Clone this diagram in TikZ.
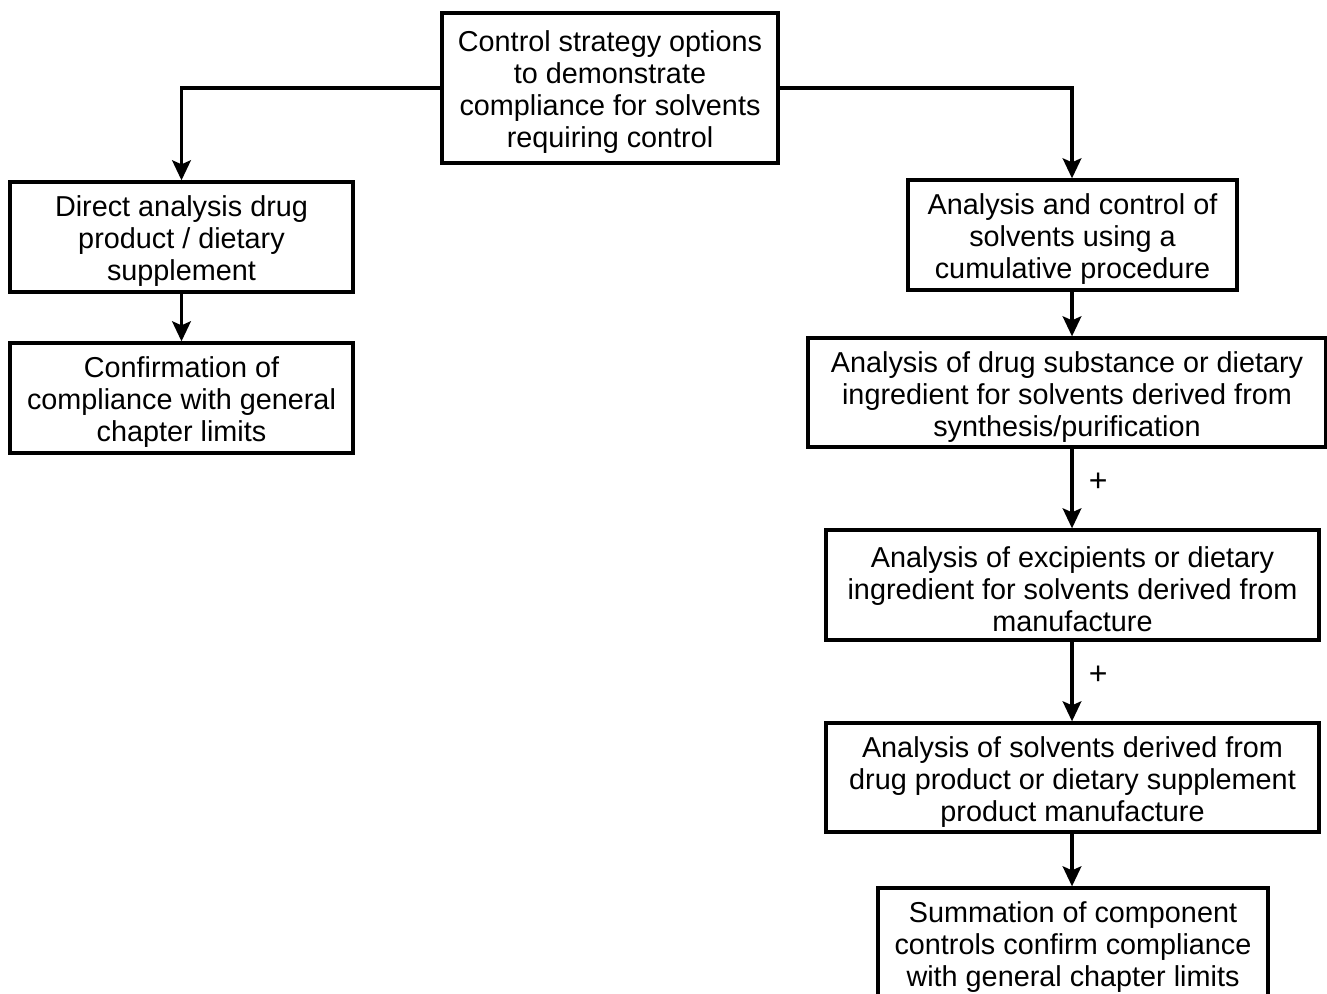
\documentclass[tikz,border=0pt]{standalone}
\usepackage{fontspec}
\setmainfont{Liberation Sans}
\usetikzlibrary{arrows.meta}
\newcommand{\topstrut}{\rule{0pt}{22pt}}
\begin{document}
\begin{tikzpicture}[x=0.75pt,y=-0.75pt,
  box/.style={draw,line width=2.5pt,align=center,inner sep=0pt,font=\fontsize{21.6}{24}\selectfont},
  arr/.style={line width=2.5pt,-{Stealth[length=15pt,width=14pt,inset=3pt]}},
  plus/.style={font=\fontsize{24}{24}\selectfont}]
\useasboundingbox (0,0) rectangle (1327,994);
\clip (0,0) rectangle (1327,994);
\node[box,minimum width=252pt,minimum height=112.5pt] (top) at (610,88) {\topstrut Control strategy options\\to demonstrate\\compliance for solvents\\requiring control};
\node[box,minimum width=257.25pt,minimum height=82.5pt] (l1) at (181.5,237) {\topstrut Direct analysis drug\\product / dietary\\supplement};
\node[box,minimum width=257.25pt,minimum height=82.5pt] (l2) at (181.5,398) {\topstrut Confirmation of\\compliance with general\\chapter limits};
\node[box,minimum width=246.75pt,minimum height=82.5pt] (r1) at (1072.5,235) {\topstrut Analysis and control of\\solvents using a\\cumulative procedure};
\node[box,minimum width=388.5pt,minimum height=81.75pt] (r2) at (1067,392.5) {\topstrut Analysis of drug substance or dietary\\ingredient for solvents derived from\\synthesis/purification};
\node[box,minimum width=369.75pt,minimum height=82.5pt] (r3) at (1072.5,585) {\topstrut Analysis of excipients or dietary\\ingredient for solvents derived from\\manufacture};
\node[box,minimum width=369.75pt,minimum height=81.75pt] (r4) at (1072.5,777.5) {\topstrut Analysis of solvents derived from\\drug product or dietary supplement\\product manufacture};
\node[box,minimum width=292.5pt,minimum height=82.5pt] (r5) at (1073,943) {\topstrut Summation of component\\controls confirm compliance\\with general chapter limits};
\coordinate (cl) at (181.5,88);
\coordinate (cr) at (1072,88);
\draw[arr] (top.west) -- (cl) -- (l1.north -| cl);
\draw[arr] (top.east) -- (cr) -- (r1.north -| cr);
\draw[arr] (l1.south) -- (l2.north);
\draw[arr] (r1.south -| cr) -- (r2.north -| cr);
\draw[arr] (r2.south -| cr) -- node[plus,right=8pt,pos=0.42] (p1) {+} (r3.north -| cr);
\draw[arr] (r3.south -| cr) -- node[plus,right=8pt,pos=0.42] (p2) {+} (r4.north -| cr);
\draw[arr] (r4.south -| cr) -- (r5.north -| cr);
\end{tikzpicture}
\end{document}
